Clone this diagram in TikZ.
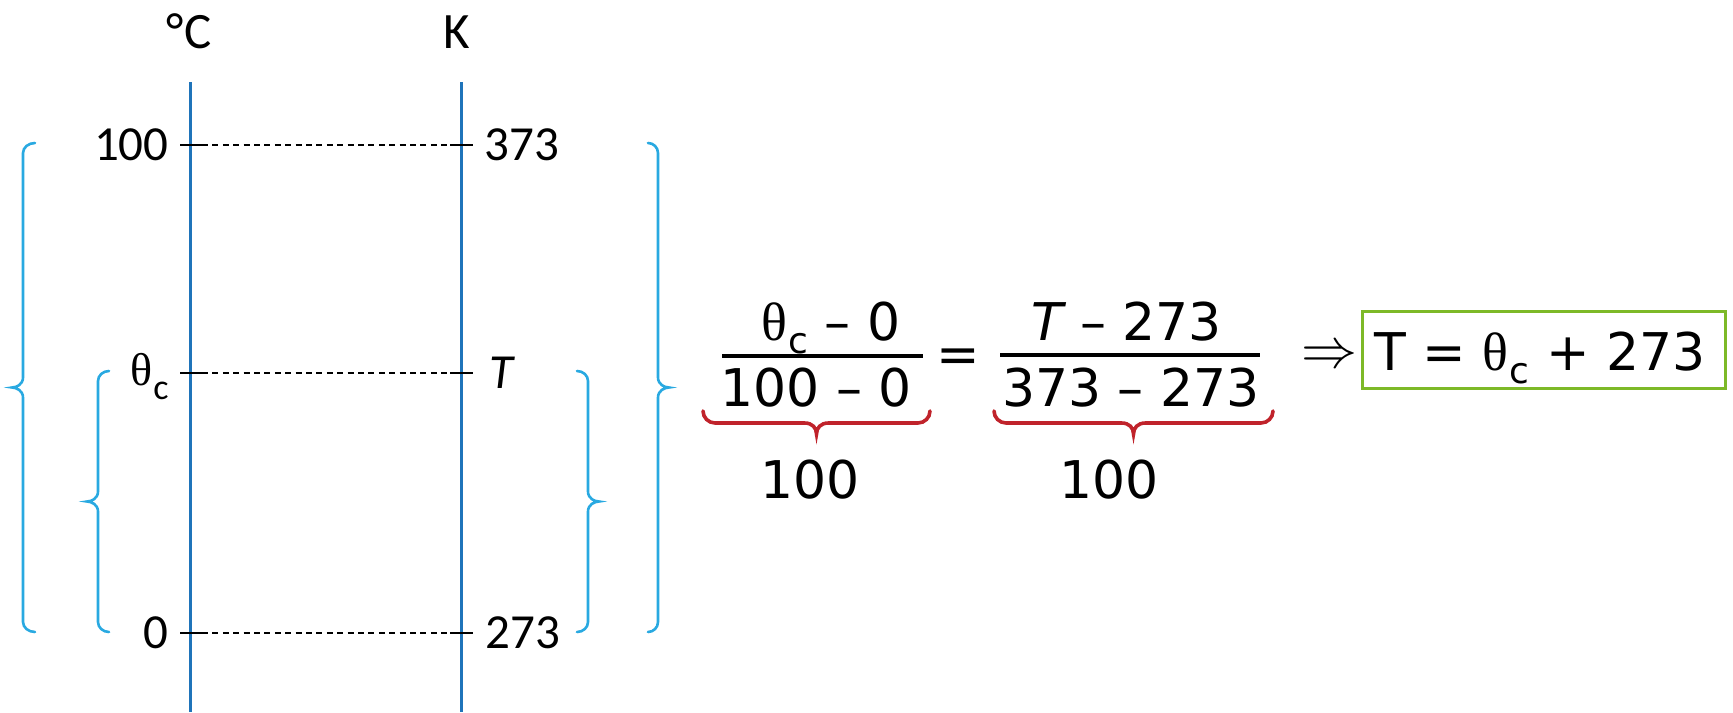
\RequirePackage{fix-cm}
\documentclass[tikz,border=0pt]{standalone}
\usepackage{fontspec}
\setmainfont{DejaVu Sans}
\newfontfamily\lab{Carlito}
\newfontfamily\thf{Liberation Serif}
\definecolor{scaleblue}{HTML}{1F74BA}
\definecolor{braceblue}{HTML}{29A9E1}
\definecolor{bracered}{HTML}{C0232B}
\definecolor{boxgreen}{HTML}{7DB928}
% theta with subscript c: #1 theta size, #2 c size, #3 lowering
\newcommand\thsub[3]{{\thf\fontsize{#1}{#1}\selectfont θ}\kern0.5pt\lower#3\hbox{\fontsize{#2}{#2}\selectfont c}}
% vertical brace: #1 end x, #2 spine x, #3 tip x, #4 top y, #5 bottom y
\newcommand\skvbrace[5]{%
  \pgfmathsetmacro\ym{(#4+#5)/2}%
  \draw[bluebrace] (#1,#4) .. controls ({#1+0.552*(#2-#1)},#4) and (#2,{#4+4.5}) .. (#2,{#4+10})
    -- (#2,{\ym-10}) .. controls (#2,{\ym-3}) and ({#3+0.4*(#2-#3)},\ym) .. (#3,\ym)
    .. controls ({#3+0.4*(#2-#3)},\ym) and (#2,{\ym+3}) .. (#2,{\ym+10})
    -- (#2,{#5-10}) .. controls (#2,{#5-4.5}) and ({#1+0.552*(#2-#1)},#5) .. (#1,#5);}
% horizontal brace opening up: #1 left x, #2 right x, #3 end y, #4 spine y, #5 tip y
\newcommand\skhbrace[5]{%
  \pgfmathsetmacro\xm{(#1+#2)/2}%
  \draw[redbrace] (#1,#3) .. controls (#1,{#3+6.6}) and ({#1+5.4},#4) .. ({#1+12},#4)
    -- ({\xm-12},#4) .. controls ({\xm-4},#4) and (\xm,{#4+5}) .. (\xm,#5)
    .. controls (\xm,{#4+5}) and ({\xm+4},#4) .. ({\xm+12},#4)
    -- ({#2-12},#4) .. controls ({#2-5.4},#4) and (#2,{#3+6.6}) .. (#2,#3);}
\tikzset{
  scaleline/.style={draw=scaleblue, line width=1.5pt},
  bluebrace/.style={draw=braceblue, line width=1.3pt, line cap=round},
  redbrace/.style={draw=bracered, line width=1.8pt, line cap=round},
  tickmark/.style={draw=black, line width=1pt},
  guide/.style={draw=black, line width=1pt, dash pattern=on 3pt off 2.2pt},
  lbl/.style={inner sep=0pt, font=\lab\fontsize{24.5}{24.5}\selectfont},
  hdr/.style={inner sep=0pt, anchor=base, font=\lab\fontsize{25.5}{25.5}\selectfont},
  eqt/.style={inner sep=0pt, anchor=base, font=\fontsize{26}{30}\selectfont},
  fracbar/.style={draw=black, line width=2pt},
  resframe/.style={draw=boxgreen, line width=1.5pt}
}
\begin{document}
\begin{tikzpicture}[x=0.5pt,y=-0.5pt]
\useasboundingbox (0,0) rectangle (1733,712);
% scale axes
\coordinate (Ctop) at (190,82);
\coordinate (Cbot) at (190,712);
\coordinate (Ktop) at (461,82);
\coordinate (Kbot) at (461,712);
\draw[scaleline] (Ctop) -- (Cbot);
\draw[scaleline] (Ktop) -- (Kbot);
\node[hdr] (hC) at (189,48) {°C};
\node[hdr] (hK) at (457,48) {K};
% levels
\coordinate (c100) at (190,145);
\coordinate (k373) at (461,145);
\coordinate (cth) at (190,373);
\coordinate (kT) at (461,373);
\coordinate (c0) at (190,633);
\coordinate (k273) at (461,633);
\foreach \a/\b in {c100/k373, cth/kT, c0/k273}{
  \draw[tickmark] ([xshift=-5pt]\a) -- ([xshift=6pt]\a);
  \draw[guide] ([xshift=6pt]\a) -- ([xshift=-5.5pt]\b);
  \draw[tickmark] ([xshift=-5.5pt]\b) -- ([xshift=6pt]\b);
}
% labels
\node[lbl, anchor=base east] (l100) at (169,160) {100};
\node[lbl, anchor=base west] (l373) at (484,160) {373};
\node[lbl, anchor=base east] (lth) at (169,385) {\thsub{23}{18}{7pt}};
\node[lbl, anchor=base west] (lT) at (489,388) {\itshape T};
\node[lbl, anchor=base east] (l0) at (169,648) {0};
\node[lbl, anchor=base west] (l273) at (485,648) {273};
% braces
\skvbrace{35}{23}{12}{143}{632}
\skvbrace{109}{98}{87}{371}{632}
\skvbrace{577}{588}{599}{371}{632}
\skvbrace{648}{658}{669}{143}{632}
% equation
\node[eqt] (n1) at (831,340) {\thsub{27}{18}{6.5pt} – 0};
\draw[fracbar] (722,356) -- (923,356);
\node[eqt] (d1) at (816,406) {100 – 0};
\node[eqt] (eq) at (958,372) {=};
\node[eqt] (n2) at (1127,340) {{\itshape T} – 273};
\draw[fracbar] (1000,355) -- (1260,355);
\node[eqt] (d2) at (1131,406) {373 – 273};
\skhbrace{703}{930}{411}{423}{434}
\skhbrace{994}{1273}{411}{423}{434}
\node[eqt] (h1) at (810,498) {100};
\node[eqt] (h2) at (1109,498) {100};
\node[inner sep=0pt] (imp) at (1329,357) {\fontsize{28}{28}\selectfont$\Rightarrow$};
\draw[resframe] (1362,311) rectangle (1725,388);
\node[eqt] (res) at (1540,370) {T = \thsub{27}{18}{6.5pt} + 273};
\end{tikzpicture}
\end{document}
